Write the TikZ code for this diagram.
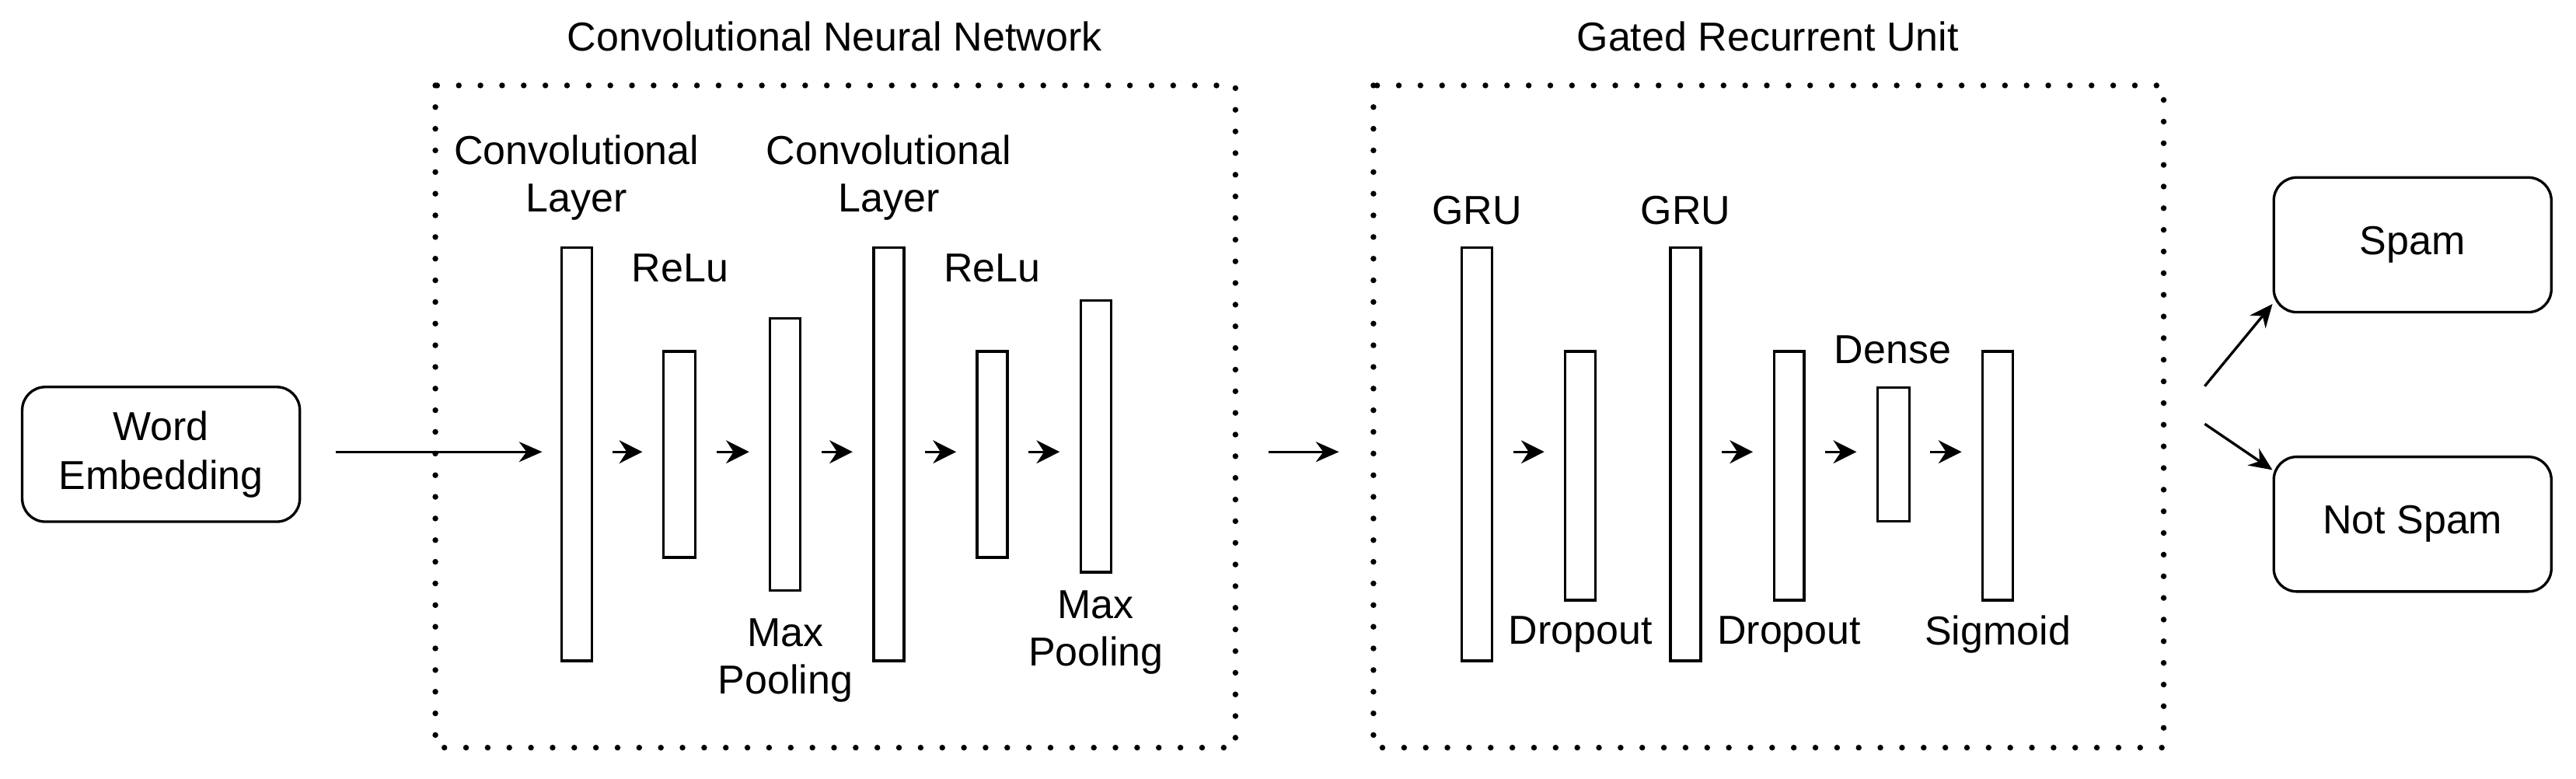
\documentclass[tikz,border=0pt]{standalone}
\usepackage{fontspec}
\setmainfont{Liberation Sans}
\usetikzlibrary{arrows.meta}
\begin{document}
\begin{tikzpicture}[x=0.02cm,y=-0.02cm,
  lay/.style={draw,line width=0.9pt,inner sep=0,anchor=north west},
  rbox/.style={draw,line width=0.9pt,rounded corners=8pt,minimum width=3.38cm,minimum height=1.64cm,align=center,font=\fontsize{14}{17}\selectfont},
  lbl/.style={align=center,font=\fontsize{14}{16.5}\selectfont,inner sep=0},
  dots/.style={draw,line width=2pt,dash pattern=on 0pt off 7.5pt,line cap=round},
  ar/.style={-{Stealth[length=8pt,width=7pt]},line width=0.9pt},
  sar/.style={-{Stealth[length=8pt,width=8pt]},line width=0.9pt}]
\useasboundingbox (0,0) rectangle (1568,474);
\newcommand{\lay}[5]{\node[lay,minimum width=#4*0.02cm-0.9pt,minimum height=#5*0.02cm-0.9pt] (#1) at (#2,#3) {};}
\node[rbox] (we) at (98,276.5) {Word\\Embedding};
\node[rbox] (spam) at (1468.5,149) {Spam};
\node[rbox] (ns) at (1468.5,319) {Not Spam};
\draw[dots] (265,52) rectangle (752,455);
\draw[dots] (836,52) rectangle (1317,455);
\node[lbl] (t1) at (508,22) {Convolutional Neural Network};
\node[lbl] (t2) at (1076,22) {Gated Recurrent Unit};
\lay{c1}{341}{150}{20}{253}
\lay{r1}{403}{213}{21}{127}
\lay{m1}{468}{193}{20}{167}
\lay{c2}{531}{150}{20}{253}
\lay{r2}{594}{213}{20}{127}
\lay{m2}{657}{182}{20}{167}
\lay{g1}{889}{150}{20}{253}
\lay{d1}{952}{213}{20}{153}
\lay{g2}{1016}{150}{20}{253}
\lay{d2}{1079}{213}{20}{153}
\lay{de}{1142}{235}{21}{83}
\lay{sg}{1206}{213}{20}{153}
\node[lbl] (lc1) at (351,108) {Convolutional\\Layer};
\node[lbl] (lr1) at (414,163) {ReLu};
\node[lbl] (lm1) at (478,402) {Max\\Pooling};
\node[lbl] (lc2) at (541,108) {Convolutional\\Layer};
\node[lbl] (lr2) at (604,163) {ReLu};
\node[lbl] (lm2) at (667,385) {Max\\Pooling};
\node[lbl] (lg1) at (899,128) {GRU};
\node[lbl] (lg2) at (1026,128) {GRU};
\node[lbl] (ld1) at (962,386) {Dropout};
\node[lbl] (ld2) at (1089,386) {Dropout};
\node[lbl] (lde) at (1152,213) {Dense};
\node[lbl] (lsg) at (1216,386) {Sigmoid};
\coordinate (y) at (0,275);
\draw[ar,shorten <=21*0.02cm,shorten >=11*0.02cm] (we.east|-y) -- (c1.west|-y);
\foreach \a/\b in {c1/r1,r1/m1,m1/c2,c2/r2,r2/m2,g1/d1,g2/d2,d2/de,de/sg}
  \draw[sar,shorten <=12*0.02cm,shorten >=12*0.02cm] (\a.east|-y) -- (\b.west|-y);
\coordinate (a0) at (772,275);
\coordinate (a1) at (815,275);
\draw[ar] (a0) -- (a1);
\coordinate (s1) at (1342,235);
\coordinate (s2) at (1342,258);
\draw[ar] (s1) -- (spam.west|-0,185);
\draw[ar] (s2) -- (ns.west|-0,286);
\end{tikzpicture}
\end{document}
